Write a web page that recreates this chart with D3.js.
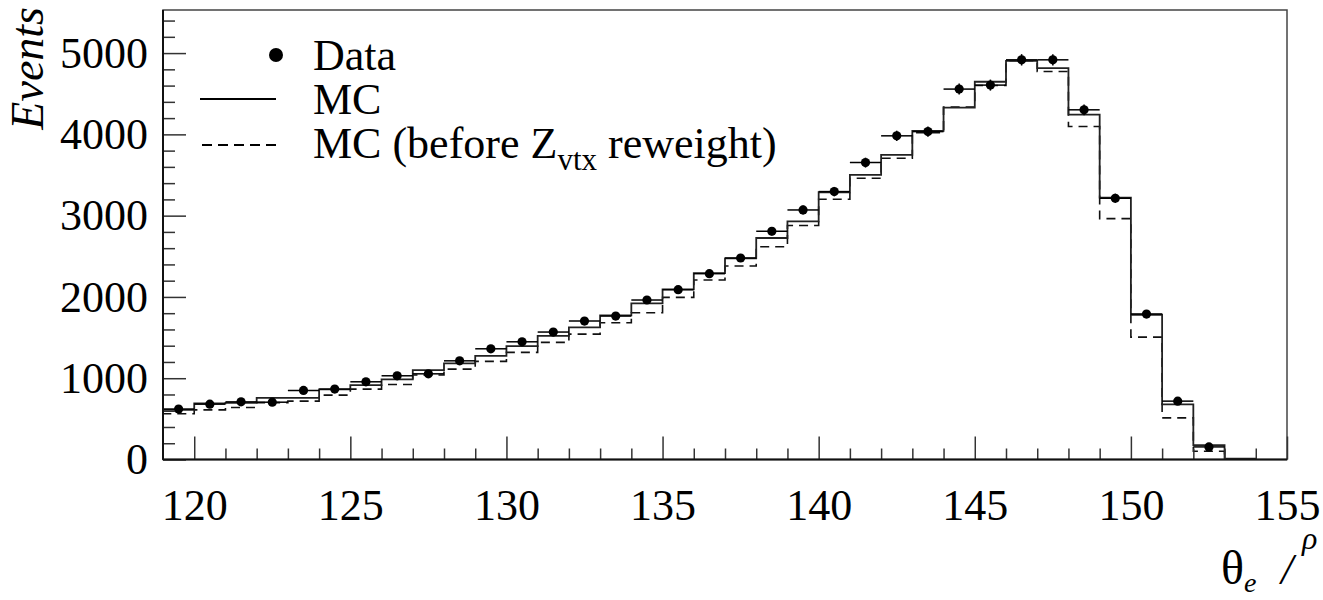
<!DOCTYPE html>
<html>
<head>
<meta charset="utf-8">
<script src="https://cdn.jsdelivr.net/npm/d3@7"></script>
<style>
  body { margin: 0; background: #fff; }
  text { font-family: "Liberation Serif", "Times New Roman", serif; fill: #000; }
</style>
</head>
<body>
<svg id="chart" width="1323" height="600"></svg>
<script>
// bin low edges (1 degree wide bins)
const binLow = [119, 120, 121, 122, 123, 124, 125, 126, 127, 128, 129, 130, 131, 132, 133, 134, 135,
  136, 137, 138, 139, 140, 141, 142, 143, 144, 145, 146, 147, 148, 149, 150, 151, 152, 153];

const dataCounts = [620, 681, 709, 705, 850, 866, 956, 1030, 1054, 1214, 1362, 1448, 1568, 1703, 1765,
  1962, 2089, 2286, 2479, 2808, 3070, 3296, 3653, 3982, 4034, 4557, 4606, 4917, 4917, 4302, 3214,
  1789, 718, 155, null];

const mcCounts = [612, 690, 697, 759, 759, 862, 915, 985, 1100, 1182, 1276, 1395, 1522, 1625, 1773,
  1921, 2093, 2294, 2475, 2725, 2930, 3288, 3501, 3748, 4043, 4330, 4647, 4905, 4815, 4244, 3222,
  1781, 677, 176, 10];

const mcBeforeCounts = [562, 610, 640, 700, 718, 792, 866, 923, 1040, 1112, 1207, 1318, 1441, 1543, 1682,
  1806, 1995, 2208, 2380, 2618, 2878, 3202, 3461, 3707, 4022, 4335, 4601, 4905, 4773, 4096, 2963,
  1506, 512, 102, 5];

const xTicks = [120, 125, 130, 135, 140, 145, 150, 155];
const yTicks = [0, 1000, 2000, 3000, 4000, 5000];
const legendLabels = ["Data", "MC", "MC (before Z", "vtx", " reweight)"];

const binWidth = 1;
const plot = { left: 163, right: 1287, top: 10, bottom: 459.5 };

const svg = d3.select("#chart");

const x = d3.scaleLinear().domain([119, 155]).range([plot.left, plot.right]);
const y = d3.scaleLinear().domain([0, 5530]).range([plot.bottom, plot.top]);

// frame
svg.append("rect")
  .attr("x", plot.left)
  .attr("y", plot.top)
  .attr("width", plot.right - plot.left)
  .attr("height", plot.bottom - plot.top)
  .attr("fill", "none")
  .attr("stroke", "#444")
  .attr("stroke-width", 1.5);

// step outline for a histogram
const stepPoints = counts => {
  const pts = [[binLow[0], 0]];
  binLow.forEach((lo, i) => pts.push([lo, counts[i]]));
  const last = binLow[binLow.length - 1] + binWidth;
  pts.push([last, counts[counts.length - 1]]);
  pts.push([last, 0]);
  return pts;
};

const step = d3.line()
  .x(d => x(d[0]))
  .y(d => y(d[1]))
  .curve(d3.curveStepAfter);

// MC before reweight (dashed)
svg.append("path")
  .datum(stepPoints(mcBeforeCounts))
  .attr("fill", "none")
  .attr("stroke", "#111")
  .attr("stroke-width", 1.6)
  .attr("stroke-dasharray", "9,6")
  .attr("d", step);

// MC (solid)
svg.append("path")
  .datum(stepPoints(mcCounts))
  .attr("fill", "none")
  .attr("stroke", "#222")
  .attr("stroke-width", 1.8)
  .attr("d", step);

// Data points with errors
const pts = binLow.map((lo, i) => ({ lo: lo, v: dataCounts[i] })).filter(d => d.v != null);

const dataG = svg.append("g").attr("class", "data");

dataG.selectAll(".xerr")
  .data(pts)
  .enter()
  .append("line")
  .attr("x1", d => x(d.lo))
  .attr("x2", d => x(d.lo + binWidth))
  .attr("y1", d => y(d.v))
  .attr("y2", d => y(d.v))
  .attr("stroke", "#000")
  .attr("stroke-width", 1.5);

dataG.selectAll(".yerr")
  .data(pts)
  .enter()
  .append("line")
  .attr("x1", d => x(d.lo + binWidth / 2))
  .attr("x2", d => x(d.lo + binWidth / 2))
  .attr("y1", d => y(d.v + Math.sqrt(d.v)))
  .attr("y2", d => y(d.v - Math.sqrt(d.v)))
  .attr("stroke", "#000")
  .attr("stroke-width", 1.5);

dataG.selectAll(".pt")
  .data(pts)
  .enter()
  .append("circle")
  .attr("cx", d => x(d.lo + binWidth / 2))
  .attr("cy", d => y(d.v))
  .attr("r", 4.6)
  .attr("fill", "#000");

// axes: major + minor ticks drawn inward
const tickFont = g => g.selectAll("text")
  .style("font-family", "'Liberation Serif', 'Times New Roman', serif")
  .style("font-size", "44px")
  .attr("fill", "#000");

svg.append("g")
  .attr("transform", `translate(0,${plot.bottom})`)
  .call(d3.axisBottom(x).tickValues(xTicks).tickSize(-23).tickPadding(29).tickFormat(d3.format("d")))
  .call(tickFont);

svg.append("g")
  .attr("transform", `translate(0,${plot.bottom})`)
  .call(d3.axisBottom(x).tickValues(d3.range(120, 155, 1).filter(v => v % 5 !== 0)).tickSize(-11).tickFormat(""));

svg.append("g")
  .attr("transform", `translate(${plot.left},0)`)
  .call(d3.axisLeft(y).tickValues(yTicks).tickSize(-23).tickPadding(15).tickFormat(d3.format("d")))
  .call(tickFont);

svg.append("g")
  .attr("transform", `translate(${plot.left},0)`)
  .call(d3.axisLeft(y).tickValues(d3.range(200, 5530, 200).filter(v => v % 1000 !== 0)).tickSize(-12).tickFormat(""));

svg.selectAll(".domain").remove();
svg.selectAll(".tick line").attr("stroke", "#333").attr("stroke-width", 1.5);

// axis lines on top
svg.append("line")
  .attr("x1", plot.left).attr("x2", plot.right)
  .attr("y1", plot.bottom).attr("y2", plot.bottom)
  .attr("stroke", "#111").attr("stroke-width", 2);
svg.append("line")
  .attr("x1", plot.left).attr("x2", plot.left)
  .attr("y1", plot.top).attr("y2", plot.bottom)
  .attr("stroke", "#111").attr("stroke-width", 2);

// y title
svg.append("text")
  .attr("transform", "translate(43,7) rotate(-90)")
  .attr("text-anchor", "end")
  .style("font-size", "46px")
  .style("font-style", "italic")
  .text("Events");

// x title
const xt = svg.append("text")
  .attr("x", 1221)
  .attr("y", 584)
  .style("font-size", "48px");
xt.append("tspan").text("θ");
xt.append("tspan").attr("dy", 8).style("font-size", "28px").style("font-style", "italic").text("e");
svg.append("text")
  .attr("x", 1281).attr("y", 584)
  .style("font-style", "italic").style("font-size", "44px")
  .text("/");
svg.append("text")
  .attr("x", 1302).attr("y", 549)
  .style("font-style", "italic").style("font-size", "32px")
  .text("ρ");

// legend
const legend = svg.append("g");
legend.append("circle").attr("cx", 276).attr("cy", 55).attr("r", 7).attr("fill", "#000");
legend.append("line").attr("x1", 200).attr("x2", 276).attr("y1", 99).attr("y2", 99)
  .attr("stroke", "#000").attr("stroke-width", 2);
legend.append("line").attr("x1", 202).attr("x2", 276).attr("y1", 145).attr("y2", 145)
  .attr("stroke", "#000").attr("stroke-width", 2).attr("stroke-dasharray", "10,6");

legend.append("text").attr("x", 313).attr("y", 70).style("font-size", "44px").text(legendLabels[0]);
legend.append("text").attr("x", 313).attr("y", 114).style("font-size", "44px").text(legendLabels[1]);
const lt = legend.append("text").attr("x", 313).attr("y", 158).style("font-size", "44px");
lt.append("tspan").text(legendLabels[2]);
lt.append("tspan").attr("dy", 12).style("font-size", "31px").text(legendLabels[3]);
lt.append("tspan").attr("dy", -12).text(legendLabels[4]);
</script>
</body>
</html>
